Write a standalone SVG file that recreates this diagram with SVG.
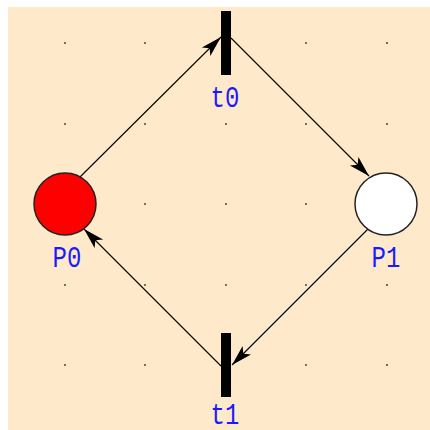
<svg xmlns="http://www.w3.org/2000/svg" width="430" height="430" viewBox="0 0 430 430">
<style>
.bg{fill:#FEEACB}
.dot{fill:#333}
.arc{stroke:#000;stroke-width:1.1;fill:none;marker-end:url(#ah)}
.place{stroke:#222;stroke-width:1.5}
.trans{fill:#000}
.lbl{font-family:"Liberation Mono","DejaVu Sans Mono",monospace;font-size:24px;fill:#1a1aff;text-anchor:middle}
</style>
<defs>
<marker id="ah" markerUnits="userSpaceOnUse" markerWidth="24" markerHeight="16" refX="21" refY="7" orient="auto">
<path d="M0,1 L21,7 L0,13 L5,7 Z" fill="#000"/>
</marker>
</defs>
<rect class="bg" x="8" y="7" width="422" height="423"/>
<g id="grid">
<circle class="dot" cx="65" cy="43" r="0.9"/><circle class="dot" cx="145" cy="43" r="0.9"/><circle class="dot" cx="306" cy="43" r="0.9"/><circle class="dot" cx="387" cy="43" r="0.9"/>
<circle class="dot" cx="65" cy="124" r="0.9"/><circle class="dot" cx="145" cy="124" r="0.9"/><circle class="dot" cx="226" cy="124" r="0.9"/><circle class="dot" cx="306" cy="124" r="0.9"/><circle class="dot" cx="387" cy="124" r="0.9"/>
<circle class="dot" cx="145" cy="204" r="0.9"/><circle class="dot" cx="226" cy="204" r="0.9"/><circle class="dot" cx="306" cy="204" r="0.9"/>
<circle class="dot" cx="65" cy="285" r="0.9"/><circle class="dot" cx="145" cy="285" r="0.9"/><circle class="dot" cx="226" cy="285" r="0.9"/><circle class="dot" cx="306" cy="285" r="0.9"/><circle class="dot" cx="387" cy="285" r="0.9"/>
<circle class="dot" cx="65" cy="365" r="0.9"/><circle class="dot" cx="145" cy="365" r="0.9"/><circle class="dot" cx="306" cy="365" r="0.9"/><circle class="dot" cx="387" cy="365" r="0.9"/>
</g>
<g id="connectors">
<line class="arc" x1="80" y1="177" x2="221" y2="37"/>
<line class="arc" x1="231" y1="38" x2="369" y2="176"/>
<line class="arc" x1="368" y1="229" x2="232" y2="365"/>
<line class="arc" x1="221" y1="366" x2="84" y2="229"/>
</g>
<g id="P0">
<circle class="place" cx="65" cy="204" r="31" fill="#FF0000"/>
<text class="lbl" transform="translate(67,267) scale(1,1.2)">P0</text>
</g>
<g id="P1">
<circle class="place" cx="386" cy="204" r="31" fill="#FFFFFF"/>
<text class="lbl" transform="translate(386,267) scale(1,1.2)">P1</text>
</g>
<g id="t0">
<rect class="trans" x="221" y="11" width="10" height="64"/>
<text class="lbl" transform="translate(225,107) scale(1,1.2)">t0</text>
</g>
<g id="t1">
<rect class="trans" x="221" y="333" width="10" height="64"/>
<text class="lbl" transform="translate(225,424) scale(1,1.2)">t1</text>
</g>
</svg>
